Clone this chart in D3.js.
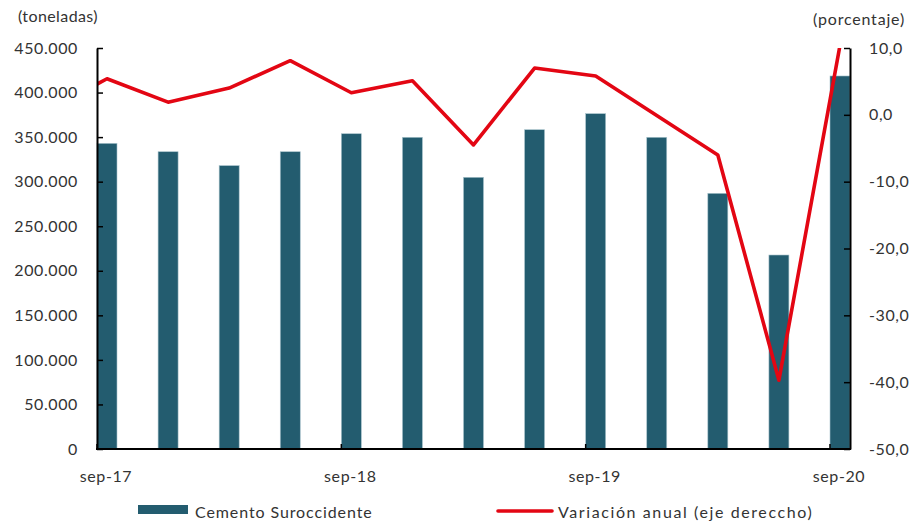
<!DOCTYPE html>
<html><head><meta charset="utf-8">
<script src="https://cdn.jsdelivr.net/npm/d3@7"></script>
<style>
html,body{margin:0;padding:0;background:#fff;}
text{font-family:Lato,"Open Sans",sans-serif;fill:#333;}
</style></head>
<body><svg id="c" width="916" height="522"></svg>
<script>
// Data
const categories = ["sep-17","dic-17","mar-18","jun-18","sep-18","dic-18","mar-19","jun-19","sep-19","dic-19","mar-20","jun-20","sep-20"];
const cementValues = [343000,333600,318000,333600,353800,349800,304900,358300,376300,349800,286900,217700,418600];
const lineCategories = ["jun-17"].concat(categories);
const variationValues = [0.5,5.4,1.9,4.0,8.1,3.3,5.1,-4.5,7.0,5.8,-0.1,-6.0,-39.7,10.4];
const xTickLabels = ["sep-17","sep-18","sep-19","sep-20"];
const leftTicks = [0,50000,100000,150000,200000,250000,300000,350000,400000,450000];
const rightTicks = [-50,-40,-30,-20,-10,0,10];

const svg = d3.select("#c");
const L = 97, R = 850, T = 48, B = 449;
const locale = d3.formatLocale({decimal:",", thousands:".", grouping:[3], currency:["",""], minus:"-"});
const fLeft = locale.format(",.0f");
const fRight = locale.format(".1f");

const x = d3.scaleLinear().domain([0, categories.length-1]).range([107, 840]);
const y = d3.scaleLinear().domain([0,450000]).range([B,T]);
const y2 = d3.scaleLinear().domain([-50,10]).range([B,T]);

svg.append("defs").append("clipPath").attr("id","plot")
  .append("rect").attr("x",L).attr("y",T).attr("width",R-L).attr("height",B-T);

// bars
svg.append("g").selectAll("rect").data(cementValues).join("rect")
  .attr("x",(d,i)=>x(i)-10).attr("width",20)
  .attr("y",d=>y(d)).attr("height",d=>B-y(d))
  .attr("fill","#235c6f").attr("stroke","#a9c3cc").attr("stroke-width",0.6);

// line
const line = d3.line().x((d,i)=>x(i-1)).y(d=>y2(d));
svg.append("path").datum(variationValues).attr("d",line)
  .attr("clip-path","url(#plot)")
  .attr("fill","none").attr("stroke","#e30613").attr("stroke-width",3.6).attr("stroke-linejoin","round");

// left axis
const gl = svg.append("g").attr("transform",`translate(${L},0)`)
  .call(d3.axisLeft(y).tickValues(leftTicks).tickFormat(fLeft).tickSizeInner(-6).tickSizeOuter(0).tickPadding(19));
gl.select(".domain").attr("stroke","#000").attr("stroke-width",2);
gl.selectAll(".tick line").attr("stroke","#000").attr("stroke-width",1.5);
gl.selectAll("text").attr("font-size",16).attr("fill","#333").style("letter-spacing","0.6px");

// right axis
const gr = svg.append("g").attr("transform",`translate(${R},0)`)
  .call(d3.axisRight(y2).tickValues(rightTicks).tickFormat(fRight).tickSizeInner(-6).tickSizeOuter(0).tickPadding(19));
gr.select(".domain").attr("stroke","#000").attr("stroke-width",2);
gr.selectAll(".tick line").attr("stroke","#000").attr("stroke-width",1.5);
gr.selectAll("text").attr("font-size",16).attr("fill","#333").style("letter-spacing","0.6px");

// bottom axis
svg.append("line").attr("x1",L-1).attr("x2",R+1).attr("y1",B).attr("y2",B).attr("stroke","#000").attr("stroke-width",2);
const tickIdx = xTickLabels.map(l=>categories.indexOf(l));
svg.append("g").selectAll("line").data(tickIdx).join("line")
  .attr("x1",i=>x(i)-10).attr("x2",i=>x(i)-10).attr("y1",B).attr("y2",B-5)
  .attr("stroke","#000").attr("stroke-width",1.5);
svg.append("g").selectAll("text").data(tickIdx).join("text")
  .attr("x",i=>x(i)-1).attr("y",482).attr("text-anchor","middle")
  .attr("font-size",16).style("letter-spacing","0.6px").text((i,k)=>xTickLabels[k]);

// axis titles
svg.append("text").attr("x",18).attr("y",22).attr("font-size",16).style("letter-spacing","0.4px").text("(toneladas)");
svg.append("text").attr("x",905).attr("y",25).attr("text-anchor","end").attr("font-size",16).style("letter-spacing","0.8px").text("(porcentaje)");

// legend
svg.append("rect").attr("x",138).attr("y",505).attr("width",50).attr("height",9).attr("fill","#235c6f");
svg.append("text").attr("x",195).attr("y",518).attr("font-size",16).style("letter-spacing","0.9px").text("Cemento Suroccidente");
svg.append("line").attr("x1",498).attr("x2",552).attr("y1",511).attr("y2",511).attr("stroke","#e30613").attr("stroke-width",3.6).attr("stroke-linecap","round");
svg.append("text").attr("x",558).attr("y",518).attr("font-size",16).style("letter-spacing","1.6px").text("Variación anual (eje dereccho)");
</script></body></html>
